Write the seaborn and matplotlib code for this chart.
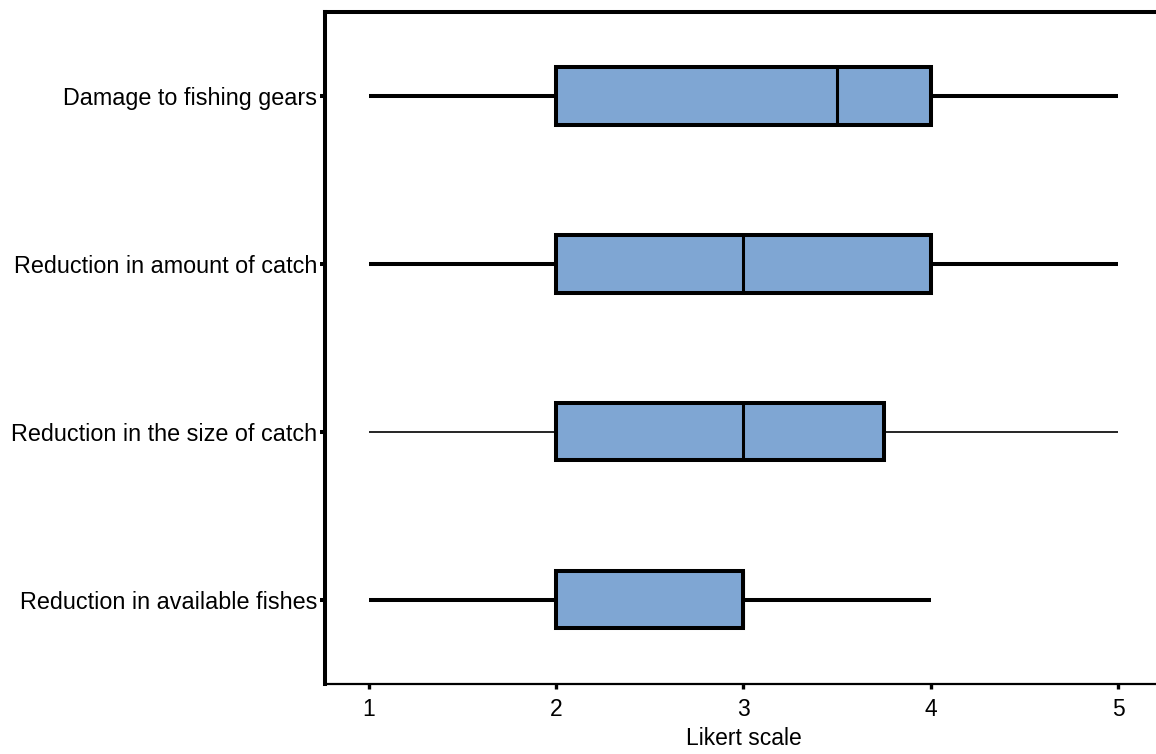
import matplotlib
import numpy as np
import pandas as pd

matplotlib.use("Agg")
import matplotlib.pyplot as plt
import seaborn as sns

# Likert responses (1-5) per perceived impact, top to bottom as drawn
categories = [
    "Damage to fishing gears",
    "Reduction in amount of catch",
    "Reduction in the size of catch",
    "Reduction in available fishes",
]
damage_gears = [1, 2, 2, 3, 4, 4, 4, 5]
amount_catch = [1, 2, 3, 4, 5]
size_catch = [1, 2, 2, 2, 3, 3, 3, 4, 4, 5]
available_fishes = [1, 2, 2, 3, 3, 3, 4]
x_ticks = [1, 2, 3, 4, 5]

responses = [damage_gears, amount_catch, size_catch, available_fishes]
df = pd.DataFrame(
    [(cat, v) for cat, vals in zip(categories, responses) for v in vals],
    columns=["impact", "score"],
)

sns.set_theme(style="ticks")
plt.rcParams["font.family"] = ["Liberation Sans", "DejaVu Sans"]
plt.rcParams["text.color"] = "black"
plt.rcParams["axes.labelcolor"] = "black"
plt.rcParams["xtick.color"] = "black"
plt.rcParams["ytick.color"] = "black"

fig = plt.figure(figsize=(11.56, 7.54), dpi=100)
ax = fig.add_axes([0.281, 0.093, 0.725, 0.891])

box_color = "#7FA6D3"
common = dict(
    x="score", y="impact", order=categories, orient="h", ax=ax,
    color=box_color, saturation=1, width=0.34, showcaps=False,
    whis=1.5, fliersize=0,
)

thin_cat = "Reduction in the size of catch"
thick = df[df["impact"] != thin_cat]
thin = df[df["impact"] == thin_cat]

sns.boxplot(
    data=thick, linewidth=2.9,
    boxprops=dict(edgecolor="black", linewidth=2.9),
    medianprops=dict(color="black", linewidth=2.2),
    whiskerprops=dict(color="black", linewidth=2.9),
    **common,
)
sns.boxplot(
    data=thin, linewidth=2.9,
    boxprops=dict(edgecolor="black", linewidth=2.9),
    medianprops=dict(color="black", linewidth=2.2),
    whiskerprops=dict(color="black", linewidth=1.2),
    **common,
)

ax.set_xlim(0.765, 5.24)
ax.set_ylim(3.5, -0.5)
ax.set_xticks(x_ticks)
ax.set_xticklabels([str(t) for t in x_ticks])
ax.set_xlabel("Likert scale", fontsize=16.5, labelpad=4)
ax.set_ylabel("")

ax.spines["right"].set_visible(False)
ax.spines["left"].set_linewidth(2.9)
ax.spines["top"].set_linewidth(2.9)
ax.spines["bottom"].set_linewidth(1.6)
for s in ax.spines.values():
    s.set_color("black")

ax.tick_params(axis="y", length=3.5, width=2.9, labelsize=16.8, pad=2)
ax.tick_params(axis="x", length=3.5, width=2.4, labelsize=16.5, pad=7)

fig.savefig("out.png", dpi=100)
plt.close(fig)
